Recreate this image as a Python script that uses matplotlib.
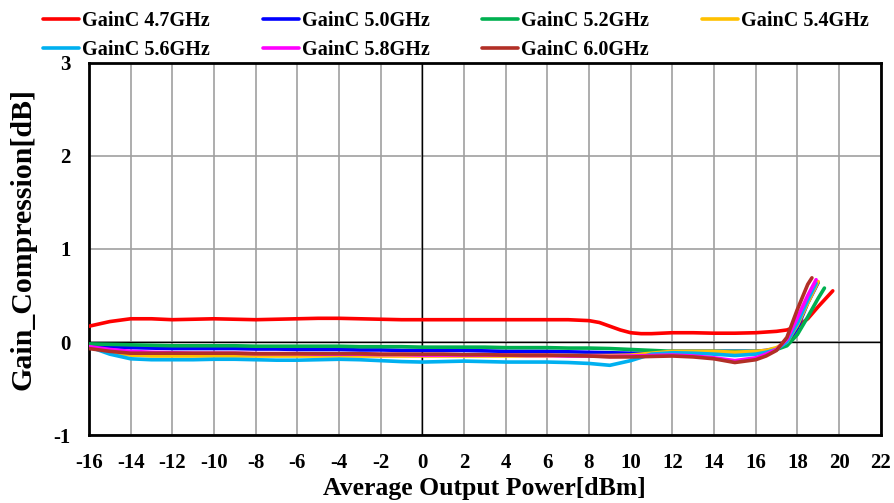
import numpy as np
import matplotlib
matplotlib.use("Agg")
import matplotlib.pyplot as plt

plt.rcParams['font.family'] = ['Liberation Serif', 'DejaVu Serif']
plt.rcParams['font.weight'] = 'bold'
plt.rcParams['axes.unicode_minus'] = False

# output power points (dBm)
p_red = [-16, -15, -14, -13, -12, -11, -10, -9, -8, -7, -6, -5, -4, -3, -2, -1, 0, 1, 2, 3, 4, 5, 6, 7,
         8, 8.5, 9, 9.5, 10, 10.5, 11, 12, 13, 14, 15, 16, 17, 17.5, 18, 18.5, 19, 19.7]
g_red = [0.17, 0.22, 0.25, 0.25, 0.24, 0.245, 0.25, 0.245, 0.24, 0.245, 0.25, 0.255, 0.255, 0.25,
         0.245, 0.24, 0.24, 0.24, 0.24, 0.24, 0.24, 0.24, 0.24, 0.24, 0.23, 0.21, 0.17, 0.13, 0.1,
         0.09, 0.09, 0.1, 0.1, 0.095, 0.095, 0.1, 0.115, 0.13, 0.17, 0.25, 0.38, 0.55]

p_lo = [-16, -15, -14, -13, -12, -11, -10, -9, -8, -7, -6, -5, -4, -3, -2, -1, 0, 1, 2, 3, 4, 5, 6, 7,
        8, 9, 10, 11, 12, 13, 14, 15, 16, 16.5, 17, 17.5, 18, 18.5]

g_blue = [-0.03, -0.05, -0.06, -0.065, -0.07, -0.07, -0.07, -0.07, -0.075, -0.075, -0.08, -0.08,
          -0.08, -0.085, -0.085, -0.09, -0.09, -0.09, -0.09, -0.095, -0.1, -0.1, -0.1, -0.105,
          -0.11, -0.115, -0.12, -0.12, -0.1, -0.1, -0.1, -0.1, -0.1, -0.09, -0.07, -0.02, 0.15, 0.42]
g_green = [-0.02, -0.025, -0.03, -0.035, -0.04, -0.04, -0.04, -0.04, -0.045, -0.045, -0.045, -0.045,
           -0.045, -0.05, -0.05, -0.05, -0.055, -0.055, -0.055, -0.055, -0.06, -0.06, -0.06, -0.065,
           -0.065, -0.07, -0.08, -0.09, -0.1, -0.1, -0.1, -0.1, -0.1, -0.095, -0.08, -0.04, 0.08, 0.27]
g_yellow = [-0.05, -0.11, -0.14, -0.15, -0.15, -0.15, -0.15, -0.15, -0.15, -0.15, -0.15, -0.15,
            -0.15, -0.15, -0.15, -0.15, -0.15, -0.15, -0.15, -0.15, -0.15, -0.15, -0.15, -0.145,
            -0.145, -0.145, -0.14, -0.12, -0.1, -0.1, -0.1, -0.11, -0.1, -0.09, -0.06, 0.0, 0.18, 0.42]
g_cyan = [-0.05, -0.13, -0.18, -0.19, -0.19, -0.19, -0.185, -0.185, -0.19, -0.195, -0.195, -0.19,
          -0.185, -0.19, -0.2, -0.21, -0.215, -0.21, -0.205, -0.21, -0.215, -0.215, -0.215, -0.22,
          -0.23, -0.25, -0.2, -0.13, -0.115, -0.12, -0.13, -0.145, -0.13, -0.11, -0.08, 0.0, 0.2, 0.45]
g_magenta = [-0.05, -0.08, -0.1, -0.11, -0.115, -0.12, -0.12, -0.12, -0.125, -0.125, -0.125, -0.13,
             -0.13, -0.13, -0.135, -0.135, -0.14, -0.14, -0.14, -0.14, -0.14, -0.145, -0.145, -0.15,
             -0.15, -0.155, -0.15, -0.145, -0.14, -0.15, -0.17, -0.2, -0.17, -0.13, -0.08, 0.03, 0.26, 0.5]
g_brown = [-0.07, -0.1, -0.12, -0.12, -0.12, -0.12, -0.12, -0.12, -0.125, -0.125, -0.125, -0.125,
           -0.125, -0.125, -0.13, -0.13, -0.13, -0.13, -0.135, -0.135, -0.14, -0.14, -0.14, -0.145,
           -0.15, -0.16, -0.16, -0.155, -0.15, -0.16, -0.18, -0.22, -0.19, -0.15, -0.09, 0.05, 0.35, 0.62]

# end points of the compression rise
tail = {
    "GainC 5.0GHz": ([19.0], [0.64]),
    "GainC 5.2GHz": ([19.0, 19.3], [0.47, 0.58]),
    "GainC 5.4GHz": ([19.0], [0.65]),
    "GainC 5.6GHz": ([18.9], [0.63]),
    "GainC 5.8GHz": ([18.9], [0.67]),
    "GainC 6.0GHz": ([18.7], [0.69]),
}

series = [
    ("GainC 4.7GHz", p_red, g_red, "#ff0000"),
    ("GainC 5.0GHz", p_lo, g_blue, "#0000ff"),
    ("GainC 5.2GHz", p_lo, g_green, "#00b050"),
    ("GainC 5.4GHz", p_lo, g_yellow, "#ffc000"),
    ("GainC 5.6GHz", p_lo, g_cyan, "#00b0f0"),
    ("GainC 5.8GHz", p_lo, g_magenta, "#ff00ff"),
    ("GainC 6.0GHz", p_lo, g_brown, "#b22f26"),
]

fig = plt.figure(figsize=(8.95, 5.03), dpi=100)
ax = fig.add_axes([0.0994, 0.135, 0.8846, 0.74])

handles = []
for name, xs, ys, col in series:
    xs = list(xs)
    ys = list(ys)
    if name in tail:
        xs += tail[name][0]
        ys += tail[name][1]
    h, = ax.plot(xs, ys, color=col, lw=2.6, label=name, solid_capstyle='round', zorder=3)
    handles.append(h)

ax.set_xlim(-16, 22)
ax.set_ylim(-1, 3)
ax.set_xticks(np.arange(-16, 23, 2))
ax.set_yticks([-1, 0, 1, 2, 3])
ax.grid(True, color='#a0a0a0', lw=1.2, zorder=0)
ax.axhline(0, color='black', lw=1.0, zorder=2)
ax.axvline(0, color='black', lw=1.0, zorder=2)
for s in ax.spines.values():
    s.set_linewidth(2.0)
ax.tick_params(axis='x', length=0, labelsize=15, pad=13)
ax.tick_params(axis='y', length=0, labelsize=15, pad=13)
for lab in ax.get_xticklabels() + ax.get_yticklabels():
    lab.set_fontweight('bold')

ax.set_xlabel("Average Output Power[dBm]", fontsize=18.5, fontweight='bold', labelpad=3)
ax.set_ylabel("Gain_Compression[dB]", fontsize=21.5, fontweight='bold')
ax.yaxis.set_label_coords(-0.066, 0.527)

# row-major legend order
order = [0, 4, 1, 5, 2, 6, 3]
fig.legend([handles[i] for i in order], [series[i][0] for i in order],
           loc='upper left', bbox_to_anchor=(0.028, 1.015), ncol=4, frameon=False,
           fontsize=14.5, handlelength=1.8, handletextpad=0.15, columnspacing=2.6,
           labelspacing=0.45)

fig.savefig("out.png", dpi=100)
